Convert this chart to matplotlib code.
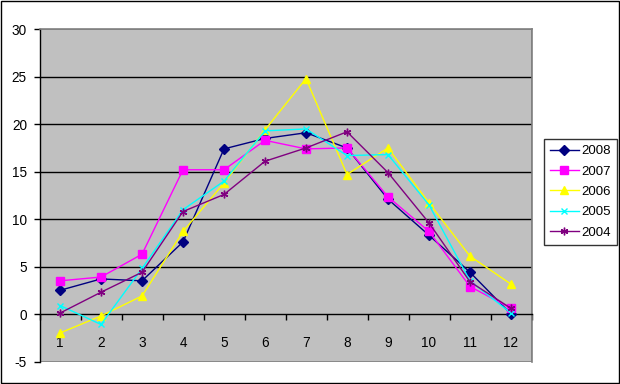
import matplotlib
matplotlib.use("Agg")
import matplotlib.pyplot as plt
from matplotlib.patches import Rectangle

months = [1, 2, 3, 4, 5, 6, 7, 8, 9, 10, 11, 12]
y2008 = [2.5, 3.7, 3.5, 7.6, 17.4, 18.5, 19.1, 17.5, 12.1, 8.3, 4.4, 0.0]
y2007 = [3.5, 3.9, 6.3, 15.2, 15.2, 18.3, 17.4, 17.5, 12.35, 8.7, 2.9, 0.6]
y2006 = [-2.0, -0.2, 1.9, 8.7, 13.8, 19.4, 24.8, 14.7, 17.5, 11.7, 6.1, 3.15]
y2005 = [0.9, -1.1, 4.8, 11.0, 14.0, 19.3, 19.5, 16.7, 16.8, 11.5, 3.5, 0.1]
y2004 = [0.1, 2.3, 4.4, 10.8, 12.6, 16.1, 17.5, 19.2, 14.9, 9.6, 3.4, 0.6]
series_labels = ["2008", "2007", "2006", "2005", "2004"]
yticks = [-5, 0, 5, 10, 15, 20, 25, 30]

plt.rcParams['font.family'] = ['Liberation Sans', 'DejaVu Sans']

fig = plt.figure(figsize=(6.2, 3.84), dpi=100)
fig.patch.set_facecolor('white')
fig.add_artist(Rectangle((0.5/620, 1.5/384), 618.5/620, 381.5/384, transform=fig.transFigure,
                         fill=False, edgecolor='black', linewidth=1.0))

ax = fig.add_axes([39.5/620, 1 - 361.5/384, (531.5 - 39.5)/620, (361.5 - 29.3)/384])
ax.set_facecolor('#C0C0C0')

for v in [5, 10, 15, 20, 25]:
    ax.axhline(v, color='black', linewidth=1.0, zorder=1)

styles = [
    (y2008, '#000080', 'D', 4.8),
    (y2007, '#FF00FF', 's', 5.2),
    (y2006, '#FFFF00', '^', 5.8),
    (y2005, '#00FFFF', 'x', 5.0),
    (y2004, '#800080', (6, 2, 0), 5.5),
]
for (vals, col, mk, ms), lab in zip(styles, series_labels):
    ax.plot(months, vals, color=col, marker=mk, markersize=ms, linewidth=1.0,
            markeredgecolor=col, markerfacecolor=col, markeredgewidth=1.0,
            label=lab, zorder=3)

ax.set_xlim(0.5, 12.5)
ax.set_ylim(-5, 30)

for s in ['top', 'right']:
    ax.spines[s].set_color('#808080')
    ax.spines[s].set_linewidth(1.2)
ax.spines['left'].set_color('black')
ax.spines['left'].set_linewidth(1.0)
ax.spines['bottom'].set_position(('data', 0))
ax.spines['bottom'].set_color('black')
ax.spines['bottom'].set_linewidth(1.0)
ax.add_patch(Rectangle((0, 0), 1, 1, transform=ax.transAxes, fill=False,
                       edgecolor='#808080', linewidth=1.2, zorder=0.5))

ax.set_yticks(yticks)
ax.set_yticklabels([str(v) for v in yticks], fontsize=9.8)
ax.tick_params(axis='y', direction='out', length=4, width=1, color='black', pad=5)

ax.set_xticks(months)
ax.set_xticklabels([str(m) for m in months], fontsize=9.8)
ax.set_xticks([m + 0.5 for m in [0] + months], minor=True)
ax.tick_params(axis='x', which='major', length=0, pad=16)
ax.tick_params(axis='x', which='minor', direction='out', length=4, width=1, color='black')

leg = ax.legend(loc='upper left', bbox_to_anchor=(544/620, 1 - 139/384), bbox_transform=fig.transFigure,
                frameon=True, fancybox=False, edgecolor='black', fontsize=9.5,
                handlelength=2.2, handletextpad=0.2, labelspacing=0.62, borderpad=0.45,
                borderaxespad=0)
leg.get_frame().set_linewidth(1.0)

fig.savefig('out.png', dpi=100)
